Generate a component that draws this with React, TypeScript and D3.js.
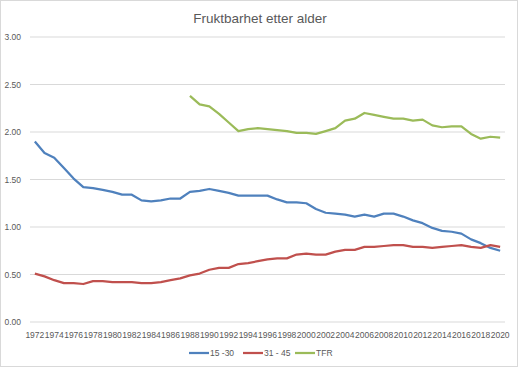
import React, { useEffect, useRef } from 'react';
import * as d3 from 'd3';

const years = d3.range(1972, 2021).map(String);

const age1530 = [
  1.9, 1.78, 1.73, 1.62, 1.51, 1.42, 1.41, 1.39, 1.37, 1.34, 1.34, 1.28, 1.27, 1.28, 1.3, 1.3, 1.37,
  1.38, 1.4, 1.38, 1.36, 1.33, 1.33, 1.33, 1.33, 1.29, 1.26, 1.26, 1.25, 1.19, 1.15, 1.14, 1.13,
  1.11, 1.13, 1.11, 1.14, 1.14, 1.11, 1.07, 1.04, 0.99, 0.96, 0.95, 0.93, 0.87, 0.83, 0.78, 0.75,
];

const age3145 = [
  0.51, 0.48, 0.44, 0.41, 0.41, 0.4, 0.43, 0.43, 0.42, 0.42, 0.42, 0.41, 0.41, 0.42, 0.44, 0.46, 0.49,
  0.51, 0.55, 0.57, 0.57, 0.61, 0.62, 0.64, 0.66, 0.67, 0.67, 0.71, 0.72, 0.71, 0.71, 0.74, 0.76,
  0.76, 0.79, 0.79, 0.8, 0.81, 0.81, 0.79, 0.79, 0.78, 0.79, 0.8, 0.81, 0.79, 0.78, 0.81, 0.79,
];

// TFR only from 1988
const tfr: (number | null)[] = [
  null, null, null, null, null, null, null, null, null, null, null, null, null, null, null, null, 2.38,
  2.29, 2.27, 2.19, 2.1, 2.01, 2.03, 2.04, 2.03, 2.02, 2.01, 1.99, 1.99, 1.98, 2.01, 2.04, 2.12,
  2.14, 2.2, 2.18, 2.16, 2.14, 2.14, 2.12, 2.13, 2.07, 2.05, 2.06, 2.06, 1.98, 1.93, 1.95, 1.94,
];

const yTicks = [0, 0.5, 1, 1.5, 2, 2.5, 3];

const series = [
  { name: '15 -30', values: age1530, color: '#4F81BD' },
  { name: '31 - 45', values: age3145, color: '#C0504D' },
  { name: 'TFR', values: tfr, color: '#9BBB59' },
];

const App = () => {
  const ref = useRef<SVGSVGElement>(null);

  useEffect(() => {
    const width = 520;
    const height = 369;
    const font = 'Liberation Sans, Arial, sans-serif';
    const svg = d3.select(ref.current);
    svg.selectAll('*').remove();

    svg.append('rect')
      .attr('x', 0.5).attr('y', 0.5)
      .attr('width', 517).attr('height', 366)
      .attr('fill', '#fff').attr('stroke', '#d9d9d9');

    svg.append('text')
      .attr('x', 260).attr('y', 23)
      .attr('text-anchor', 'middle')
      .attr('font-family', font)
      .attr('font-size', 13.5)
      .attr('fill', '#595959')
      .text('Fruktbarhet etter alder');

    const x = d3.scaleBand().domain(years).range([30, 505]);
    const y = d3.scaleLinear().domain([0, 3]).range([322, 37]);

    // gridlines
    svg.append('g')
      .selectAll('line')
      .data(yTicks)
      .join('line')
      .attr('x1', 30).attr('x2', 505)
      .attr('y1', (d) => y(d)).attr('y2', (d) => y(d))
      .attr('stroke', '#d9d9d9').attr('stroke-width', 1);

    svg.append('g')
      .selectAll('text')
      .data(yTicks)
      .join('text')
      .attr('x', 21).attr('y', (d) => y(d) + 3)
      .attr('text-anchor', 'end')
      .attr('font-family', font)
      .attr('font-size', 8.5)
      .attr('fill', '#595959')
      .text((d) => d3.format('.2f')(d));

    const cx = (d: string) => (x(d) ?? 0) + x.bandwidth() / 2;

    svg.append('g')
      .selectAll('text')
      .data(years.filter((_, i) => i % 2 === 0))
      .join('text')
      .attr('x', cx).attr('y', 338)
      .attr('text-anchor', 'middle')
      .attr('font-family', font)
      .attr('font-size', 8.5)
      .attr('fill', '#595959')
      .text((d) => d);

    const line = d3.line<number | null>()
      .defined((d) => d != null)
      .x((_, i) => cx(years[i]))
      .y((d) => y(d as number));

    series.forEach((s) => {
      svg.append('path')
        .datum(s.values)
        .attr('d', line)
        .attr('fill', 'none')
        .attr('stroke', s.color)
        .attr('stroke-width', 2.25)
        .attr('stroke-linejoin', 'round');
    });

    // legend
    const legendX = [189, 243, 295];
    const lg = svg.append('g');
    series.forEach((s, i) => {
      lg.append('line')
        .attr('x1', legendX[i]).attr('x2', legendX[i] + 20)
        .attr('y1', 353).attr('y2', 353)
        .attr('stroke', s.color).attr('stroke-width', 2.25);
      lg.append('text')
        .attr('x', legendX[i] + 21).attr('y', 356)
        .attr('font-family', font)
        .attr('font-size', 8.5)
        .attr('fill', '#595959')
        .text(s.name);
    });
  }, []);

  return (
    <svg
      ref={ref}
      width={520}
      height={369}
      style={{ position: 'absolute', left: 0, top: 0 }}
    />
  );
};

export default App;
